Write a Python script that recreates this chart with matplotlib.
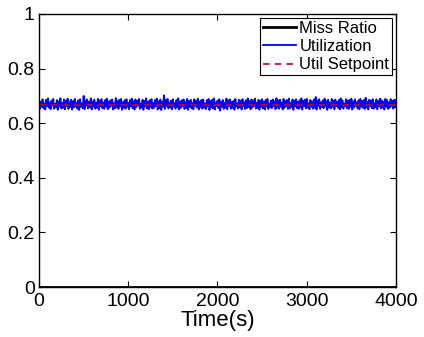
import matplotlib.pyplot as plt
import numpy as np

# values (utilization band around the setpoint)
util_vals = [
    0.684, 0.652, 0.679, 0.660, 0.688, 0.655, 0.673, 0.650, 0.686, 0.662,
    0.691, 0.657, 0.676, 0.651, 0.683, 0.664, 0.689, 0.653, 0.671, 0.658,
    0.685, 0.649, 0.680, 0.661, 0.692, 0.654, 0.674, 0.656, 0.687, 0.651,
    0.682, 0.663, 0.690, 0.652, 0.677, 0.659, 0.686, 0.650, 0.681, 0.657,
    0.689, 0.662, 0.675, 0.653, 0.684, 0.648, 0.688, 0.660, 0.672, 0.655,
    0.700, 0.651, 0.683, 0.664, 0.687, 0.654, 0.678, 0.658, 0.691, 0.650,
    0.680, 0.661, 0.686, 0.653, 0.674, 0.656, 0.689, 0.649, 0.683, 0.662,
    0.688, 0.655, 0.676, 0.652, 0.685, 0.660, 0.690, 0.651, 0.679, 0.657,
    0.684, 0.663, 0.687, 0.650, 0.673, 0.654, 0.692, 0.658, 0.681, 0.652,
    0.686, 0.661, 0.689, 0.649, 0.677, 0.656, 0.684, 0.653, 0.688, 0.660,
    0.675, 0.651, 0.685, 0.662, 0.690, 0.655, 0.680, 0.650, 0.687, 0.658,
    0.683, 0.664, 0.689, 0.652, 0.672, 0.657, 0.686, 0.649, 0.682, 0.661,
    0.691, 0.654, 0.678, 0.651, 0.684, 0.659, 0.688, 0.653, 0.674, 0.656,
    0.685, 0.662, 0.690, 0.650, 0.681, 0.655, 0.687, 0.648, 0.679, 0.660,
    0.702, 0.652, 0.686, 0.663, 0.689, 0.654, 0.676, 0.657, 0.683, 0.651,
    0.688, 0.661, 0.673, 0.653, 0.685, 0.658, 0.691, 0.650, 0.680, 0.656,
    0.684, 0.662, 0.687, 0.652, 0.677, 0.655, 0.689, 0.649, 0.682, 0.660,
    0.686, 0.654, 0.675, 0.651, 0.688, 0.663, 0.683, 0.657, 0.690, 0.650,
    0.679, 0.659, 0.685, 0.653, 0.687, 0.656, 0.672, 0.652, 0.684, 0.661,
    0.689, 0.648, 0.681, 0.658, 0.686, 0.654, 0.691, 0.650, 0.676, 0.662,
    0.683, 0.655, 0.688, 0.646, 0.680, 0.660, 0.685, 0.652, 0.674, 0.657,
    0.690, 0.651, 0.684, 0.663, 0.687, 0.653, 0.678, 0.656, 0.682, 0.649,
    0.689, 0.661, 0.673, 0.654, 0.686, 0.658, 0.683, 0.650, 0.688, 0.662,
    0.677, 0.652, 0.685, 0.655, 0.691, 0.659, 0.681, 0.651, 0.687, 0.657,
    0.684, 0.663, 0.690, 0.653, 0.675, 0.656, 0.686, 0.649, 0.682, 0.660,
    0.688, 0.654, 0.679, 0.650, 0.685, 0.661, 0.689, 0.652, 0.672, 0.658,
    0.683, 0.655, 0.687, 0.662, 0.680, 0.651, 0.692, 0.657, 0.684, 0.653,
    0.686, 0.660, 0.676, 0.650, 0.689, 0.656, 0.681, 0.663, 0.685, 0.652,
    0.690, 0.654, 0.674, 0.659, 0.687, 0.649, 0.683, 0.661, 0.688, 0.655,
    0.678, 0.652, 0.684, 0.658, 0.691, 0.650, 0.682, 0.662, 0.686, 0.654,
    0.689, 0.657, 0.673, 0.651, 0.685, 0.660, 0.680, 0.653, 0.687, 0.656,
    0.696, 0.650, 0.683, 0.663, 0.688, 0.652, 0.677, 0.659, 0.684, 0.655,
    0.690, 0.661, 0.681, 0.649, 0.686, 0.657, 0.675, 0.654, 0.689, 0.660,
    0.682, 0.651, 0.687, 0.662, 0.679, 0.656, 0.685, 0.650, 0.691, 0.658,
    0.684, 0.653, 0.672, 0.661, 0.688, 0.655, 0.683, 0.652, 0.686, 0.659,
    0.690, 0.650, 0.680, 0.657, 0.687, 0.663, 0.676, 0.654, 0.684, 0.651,
    0.689, 0.660, 0.682, 0.656, 0.685, 0.652, 0.693, 0.658, 0.678, 0.650,
    0.686, 0.662, 0.683, 0.655, 0.688, 0.653, 0.674, 0.659, 0.687, 0.651,
    0.681, 0.661, 0.690, 0.654, 0.684, 0.657, 0.679, 0.650, 0.689, 0.660,
    0.685, 0.652, 0.677, 0.656, 0.688, 0.662, 0.682, 0.653, 0.686, 0.658,
    0.684,
]
time_s = np.linspace(0, 4000, len(util_vals))
miss_ratio = [0.0] * len(util_vals)
setpoint = 0.667

x_ticks = [0, 1000, 2000, 3000, 4000]
y_ticks = [0, 0.2, 0.4, 0.6, 0.8, 1]
y_labels = ['0', '0.2', '0.4', '0.6', '0.8', '1']

plt.rcParams['font.family'] = ['Liberation Sans', 'DejaVu Sans']

fig = plt.figure(figsize=(4.24, 3.37), dpi=100)
ax = fig.add_axes([39 / 424, 1 - 287 / 337, 357 / 424, 273 / 337])

ax.plot(time_s, miss_ratio, color='k', lw=2, label='Miss Ratio')
ax.plot(time_s, util_vals, color='blue', lw=1.3, label='Utilization')
ax.plot([0, 4000], [setpoint, setpoint], color='#c00030', ls='--', lw=1.2,
        dashes=(4, 3), label='Util Setpoint')

ax.set_xlim(0, 4000)
ax.set_ylim(0, 1)
ax.set_xticks(x_ticks)
ax.set_yticks(y_ticks)
ax.set_yticklabels(y_labels)
ax.tick_params(direction='in', top=True, right=True, labelsize=14, length=4)
ax.tick_params(axis='x', pad=4)
ax.tick_params(axis='y', pad=3)
ax.set_xlabel('Time(s)', fontsize=16, labelpad=0)
for sp in ax.spines.values():
    sp.set_linewidth(1)

leg = ax.legend(loc='upper right', fontsize=12, frameon=True, fancybox=False,
                edgecolor='k', borderpad=0.15, labelspacing=0.2, handlelength=2.0,
                handletextpad=0.2, borderaxespad=0.25)
leg.get_frame().set_linewidth(0.8)
leg.get_frame().set_alpha(1)

fig.savefig('out.png', dpi=100)
